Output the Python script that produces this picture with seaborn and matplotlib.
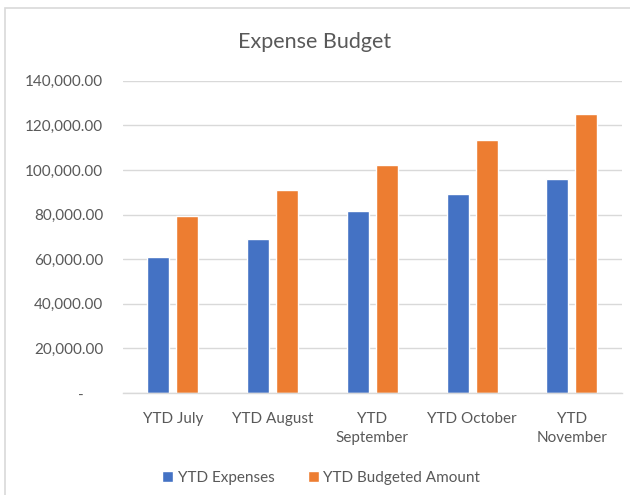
import pandas as pd
import seaborn as sns
import matplotlib.pyplot as plt
from matplotlib.patches import Rectangle
from matplotlib.ticker import FuncFormatter

# values
months = ['YTD July', 'YTD August', 'YTD\nSeptember', 'YTD October', 'YTD\nNovember']
expenses = [61000, 69000, 81500, 89100, 96100]
budgeted = [79400, 90800, 102100, 113300, 124900]
series = ['YTD Expenses', 'YTD Budgeted Amount']
colors = ['#4472C4', '#ED7D31']
y_ticks = [0, 20000, 40000, 60000, 80000, 100000, 120000, 140000]

df = pd.DataFrame({
    'Month': months * 2,
    'Amount': expenses + budgeted,
    'Series': [series[0]] * len(months) + [series[1]] * len(months),
})

sns.set_style('white')
plt.rcParams['font.family'] = ['Lato', 'DejaVu Sans']
text_color = '#595959'

fig = plt.figure(figsize=(6.3, 4.95), dpi=100)
ax = fig.add_axes([0.195, 0.206, 0.792, 0.631])

sns.barplot(data=df, x='Month', y='Amount', hue='Series', palette=colors,
            width=0.58, gap=0.24, saturation=1, ax=ax, legend=True)

ax.set_ylim(0, 140000)
ax.set_xlim(-0.5, 4.5)
ax.set_yticks(y_ticks)


def fmt(v, pos):
    if v == 0:
        return '-     '
    return f'{v:,.2f}'


ax.yaxis.set_major_formatter(FuncFormatter(fmt))
ax.grid(axis='y', color='#D9D9D9', linewidth=1)
ax.set_axisbelow(True)
for s in ['top', 'right', 'left']:
    ax.spines[s].set_visible(False)
ax.spines['bottom'].set_color('#D9D9D9')
ax.spines['bottom'].set_linewidth(1)
ax.tick_params(axis='y', length=0, pad=14, labelsize=11, labelcolor=text_color)
ax.tick_params(axis='x', length=0, pad=14, labelsize=11, labelcolor=text_color)
for lbl in ax.get_xticklabels():
    lbl.set_linespacing(1.45)
ax.set_xlabel('')
ax.set_ylabel('')

fig.text(0.5, 0.915, 'Expense Budget', ha='center', va='center',
         fontsize=15.5, color=text_color)

handles, labels = ax.get_legend_handles_labels()
ax.get_legend().remove()
fig.legend(handles, labels, loc='center', bbox_to_anchor=(0.51, 0.034), ncol=2,
           frameon=False, fontsize=11, labelcolor=text_color,
           handlelength=0.7, handleheight=0.7, handletextpad=0.3, columnspacing=2.2)

# faint chart-area border on the left and top
fig.patches.append(Rectangle((5 / 630, -0.1), 1.2, 1 - 8 / 495 + 0.1,
                             transform=fig.transFigure, fill=False,
                             edgecolor='#D9D9D9', linewidth=1.2))

fig.savefig('out.png', dpi=100, facecolor='white')
